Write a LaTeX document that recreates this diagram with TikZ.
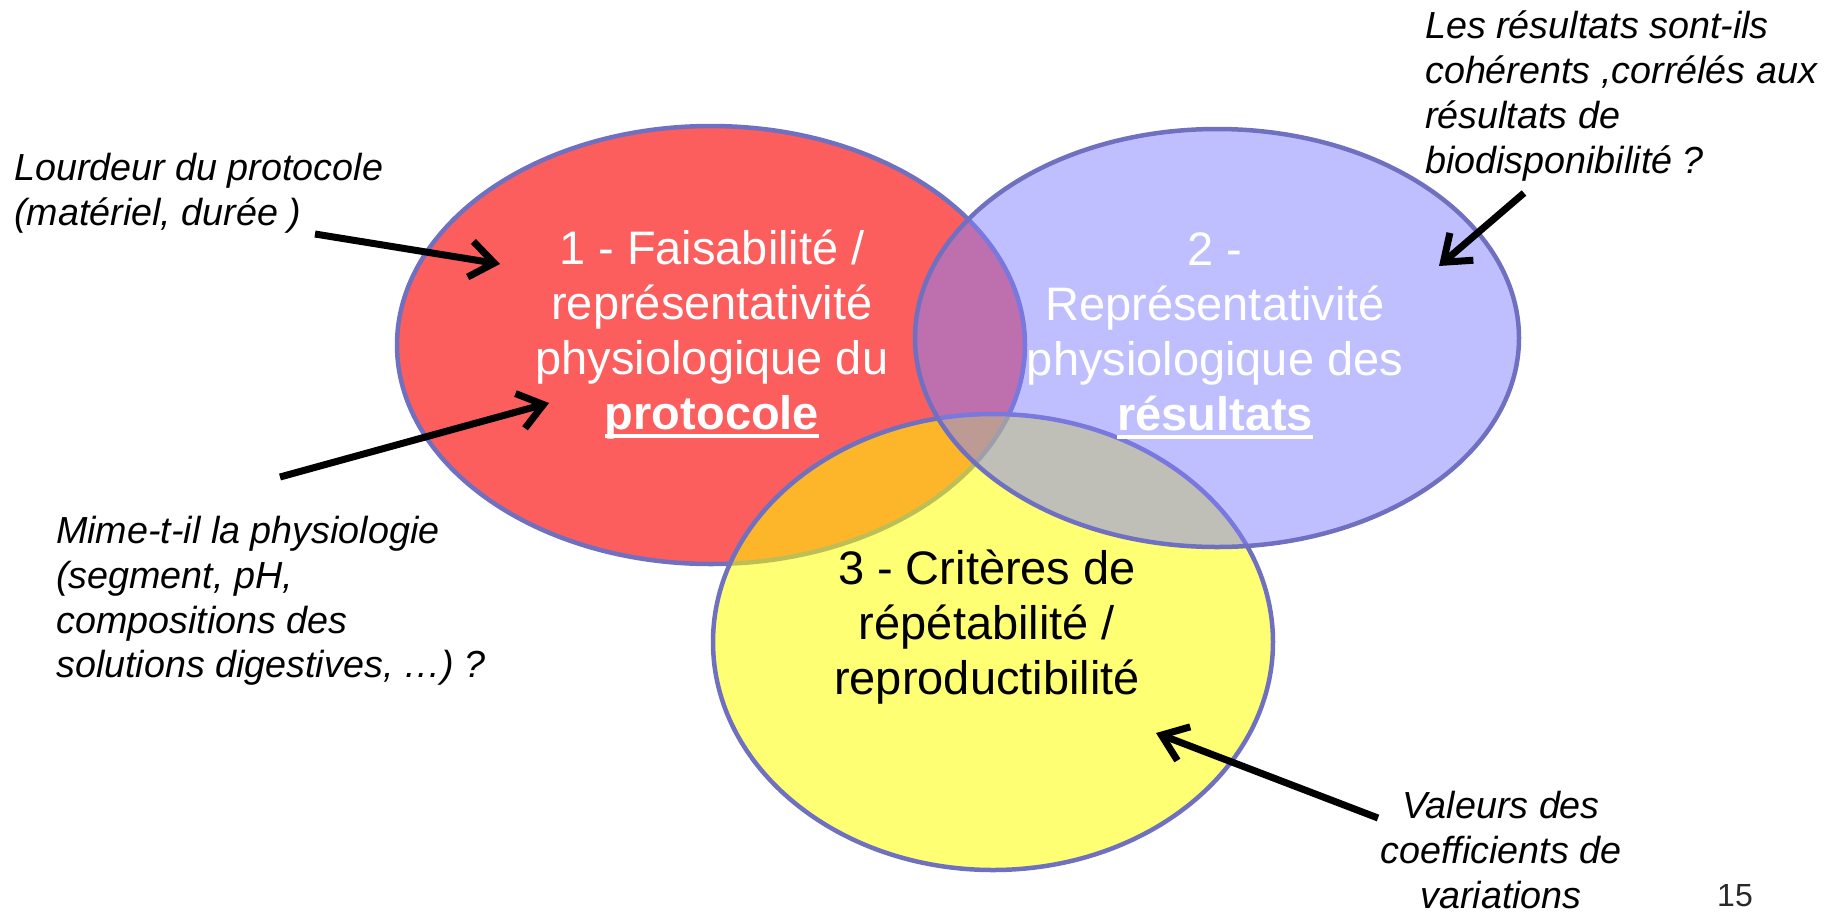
\documentclass[tikz,border=0pt]{standalone}
\usepackage{fontspec}
\setmainfont{Liberation Sans}
\usetikzlibrary{arrows.meta,shapes.geometric}

\definecolor{ringline}{RGB}{112,112,192}
\definecolor{redbase}{RGB}{250,0,0}
\definecolor{yellowbase}{RGB}{255,255,0}
\definecolor{bluebase}{RGB}{128,128,255}
\definecolor{pagenum}{RGB}{40,40,40}

% bold word with a heavy underline
\newcommand\heavyul[1]{\setbox0\hbox{#1}\rlap{\raisebox{-8pt}{\rule{\wd0}{3.5pt}}}\box0}

\begin{document}
\begin{tikzpicture}[x=1pt,y=-1pt,
  ring/.style={ellipse, draw=ringline, line width=4.5pt, inner sep=0pt},
  big/.style={font=\fontsize{47}{55}\selectfont, align=center, inner sep=0pt},
  note/.style={font=\itshape\fontsize{37.7}{44.8}\selectfont, inner sep=0pt},
  pointer/.style={line width=7pt, -{Straight Barb[length=24pt,width=36pt]}}]
\useasboundingbox (0,0) rectangle (1832,914);

% the three sets
\node[ring, fill=redbase, fill opacity=0.63, minimum width=628pt, minimum height=438pt] (redset) at (711,345) {};
\node[ring, fill=yellowbase, fill opacity=0.55, minimum width=560pt, minimum height=456pt] (yellowset) at (993,642) {};
\node[ring, fill=bluebase, fill opacity=0.5, minimum width=604pt, minimum height=418pt] (blueset) at (1217,338) {};

% titles inside the sets
\node[big, text=white] (t1) at (712,335) {1 - Faisabilité /\\représentativité\\physiologique du\\\heavyul{\textbf{protocole}}};
\node[big, text=white] (t2) at (1215,336) {2 -\\Représentativité\\physiologique des\\\heavyul{\textbf{résultats}}};
\node[big, text=black] (t3) at (987,627) {3 - Critères de\\répétabilité /\\reproductibilité};

% remarks around the sets
\node[note, anchor=west, align=left] (n1) at (14,193) {Lourdeur du protocole\\(matériel, durée )};
\node[note, anchor=west, align=left] (n2) at (56,601) {Mime-t-il la physiologie\\(segment, pH,\\compositions des\\solutions digestives, …) ?};
\node[note, anchor=west, align=left] (n3) at (1425,96) {Les résultats sont-ils\\cohérents ,corrélés aux\\résultats de\\biodisponibilité ?};
\node[note, align=center] (n4) at (1501,850) {Valeurs des\\coefficients de\\variations};
\node[font=\fontsize{32}{36}\selectfont, text=pagenum, inner sep=0pt] (pg) at (1735,896) {15};

% pointer ends
\coordinate (a1s) at (315,234);
\coordinate (a1e) at (500,264);
\coordinate (a2s) at (280,477);
\coordinate (a2e) at (549,403);
\coordinate (a3s) at (1524,193);
\coordinate (a3e) at (1439,266);
\coordinate (a4s) at (1378,818);
\coordinate (a4e) at (1156,733);

\draw[pointer] (a1s) -- (a1e);
\draw[pointer] (a2s) -- (a2e);
\draw[pointer] (a3s) -- (a3e);
\draw[pointer] (a4s) -- (a4e);
\end{tikzpicture}
\end{document}
